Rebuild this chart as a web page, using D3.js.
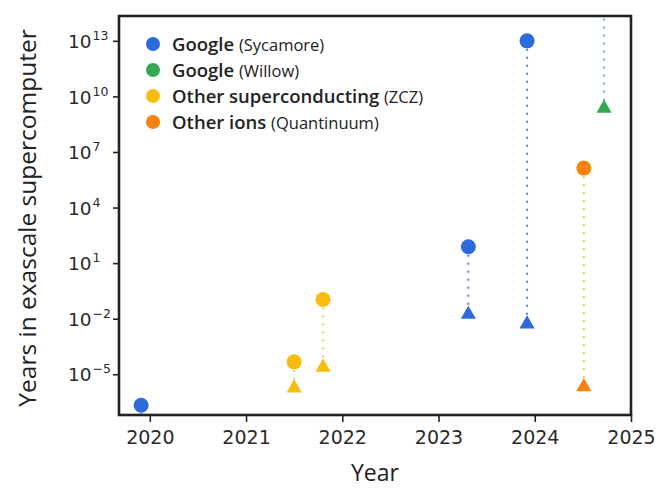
<!DOCTYPE html>
<html>
<head>
<meta charset="utf-8">
<script src="https://cdn.jsdelivr.net/npm/d3@7"></script>
<style>
  html, body { margin: 0; padding: 0; background: #fff; }
  svg { display: block; font-family: "Open Sans", "Noto Sans", sans-serif; }
</style>
</head>
<body>
<svg id="chart" width="663" height="502"></svg>
<script>
// ---- data ----
const seriesNames = ["Google", "Google", "Other superconducting", "Other ions"];
const seriesSubs = ["(Sycamore)", "(Willow)", "(ZCZ)", "(Quantinuum)"];
const seriesColors = ["#2d6bdc", "#34a853", "#f8bd0c", "#f7820f"];
const lineColors = ["#2d6bdc", "#4fb36a", "#e9c23c", "#e2c04a"];

// experiments: series index, year, circle value (log10), triangle value (log10)
const expSeries = [0, 2, 2, 0, 0, 3, 1];
const expYears = [2019.91, 2021.50, 2021.80, 2023.31, 2023.92, 2024.51, 2024.72];
const circleLog = [-6.67, -4.33, -0.96, 1.88, 13.0, 6.13, 25];
const triangleLog = [-9.5, -5.75, -4.63, -1.77, -2.29, -5.68, 9.36];

const xTicks = [2020, 2021, 2022, 2023, 2024, 2025];
const yTickExps = [13, 10, 7, 4, 1, -2, -5];

// ---- layout ----
const svg = d3.select("#chart");
const L = 119, R = 631, T = 16, B = 415;
const tickFont = "'DejaVu Sans', sans-serif";

const x = d3.scaleLinear().domain([2019.68, 2025]).range([L, R]);
const y = d3.scaleLog().domain([Math.pow(10, -7.2), Math.pow(10, 14.34)]).range([B, T]);

svg.append("defs").append("clipPath").attr("id", "clip")
  .append("rect").attr("x", L).attr("y", T).attr("width", R - L).attr("height", B - T);

// x axis
const xAxis = svg.append("g").attr("transform", `translate(0,${B})`)
  .call(d3.axisBottom(x).tickValues(xTicks).tickFormat(d3.format("d")).tickSize(7).tickPadding(9));
xAxis.select(".domain").remove();
xAxis.selectAll("line").attr("stroke", "#222").attr("stroke-width", 1.6);
xAxis.selectAll("text").attr("font-size", 19).attr("fill", "#2a2a2a")
  .style("font-family", tickFont);

// y axis
const yAxis = svg.append("g").attr("transform", `translate(${L},0)`)
  .call(d3.axisLeft(y).tickValues(yTickExps.map(e => Math.pow(10, e))).tickSize(6).tickFormat(""));
yAxis.select(".domain").remove();
yAxis.selectAll("line").attr("stroke", "#222").attr("stroke-width", 1.6);
yAxis.selectAll(".tick").each(function(d) {
  const e = Math.round(Math.log10(d));
  const t = d3.select(this).select("text")
    .attr("text-anchor", "start").attr("x", -51).attr("dy", "0.36em")
    .attr("font-size", 18.5).attr("fill", "#2a2a2a").style("font-family", tickFont);
  t.text(null);
  t.append("tspan").text("10");
  t.append("tspan").attr("font-size", 12.5).attr("dy", -8).attr("dx", 1)
    .text(e < 0 ? "\u2212" + Math.abs(e) : String(e));
});

// dotted connectors
const plot = svg.append("g").attr("clip-path", "url(#clip)");
const idx = d3.range(expYears.length);
plot.selectAll("line.conn").data(idx).join("line")
  .attr("class", "conn")
  .attr("x1", i => x(expYears[i])).attr("x2", i => x(expYears[i]))
  .attr("y1", i => y(Math.pow(10, circleLog[i])) + 8)
  .attr("y2", i => y(Math.pow(10, triangleLog[i])) - 6)
  .attr("stroke", i => lineColors[expSeries[i]])
  .attr("stroke-width", 2)
  .attr("stroke-dasharray", "2,6")
  .attr("opacity", 0.85);

// triangles
plot.selectAll("path.tri").data(idx).join("path")
  .attr("class", "tri")
  .attr("d", d3.symbol().type(d3.symbolTriangle).size(100))
  .attr("transform", i => `translate(${x(expYears[i])},${y(Math.pow(10, triangleLog[i]))})`)
  .attr("fill", i => seriesColors[expSeries[i]]);

// circles
plot.selectAll("circle.pt").data(idx).join("circle")
  .attr("class", "pt")
  .attr("cx", i => x(expYears[i]))
  .attr("cy", i => y(Math.pow(10, circleLog[i])))
  .attr("r", 7.5)
  .attr("fill", i => seriesColors[expSeries[i]]);

// frame
svg.append("rect").attr("x", L).attr("y", T).attr("width", R - L).attr("height", B - T)
  .attr("fill", "none").attr("stroke", "#222").attr("stroke-width", 2.6);

// legend
const leg = svg.append("g");
seriesNames.forEach((n, i) => {
  const yy = 44 + i * 26;
  leg.append("circle").attr("cx", 153).attr("cy", yy).attr("r", 7).attr("fill", seriesColors[i]);
  const t = leg.append("text").attr("x", 172).attr("y", yy + 6.5).attr("fill", "#222");
  t.append("tspan").attr("font-size", 18.5).attr("font-weight", 600).text(n + " ");
  t.append("tspan").attr("font-size", 16.5).attr("font-weight", 400).text(seriesSubs[i]);
});

// axis titles
svg.append("text").attr("x", 375).attr("y", 481).attr("text-anchor", "middle")
  .attr("font-size", 23).attr("font-weight", 500).attr("fill", "#222").text("Year");
svg.append("text").attr("transform", "translate(36,218) rotate(-90)").attr("text-anchor", "middle")
  .attr("font-size", 24.5).attr("font-weight", 500).attr("fill", "#222").text("Years in exascale supercomputer");
</script>
</body>
</html>
